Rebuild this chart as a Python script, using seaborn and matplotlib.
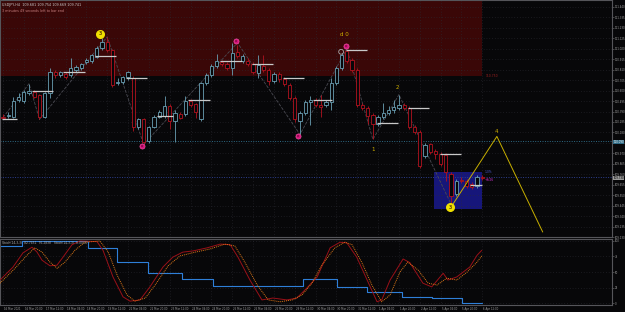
import matplotlib
matplotlib.use("Agg")
import matplotlib.pyplot as plt
import seaborn as sns
import numpy as np

# ---------------- data ----------------
opens = [110.34,110.35,110.34,110.51,110.50,110.58,110.59,110.56,110.34,110.58,
         110.79,110.76,110.77,110.76,110.81,110.83,110.89,110.90,110.94,111.03,
         111.09,111.01,110.68,110.69,110.74,110.73,110.23,110.32,110.09,110.23,
         110.34,110.35,110.45,110.29,110.37,110.37,110.50,110.47,110.31,110.68,
         110.76,110.85,110.89,110.87,110.83,110.99,110.90,110.90,110.87,110.78,
         110.85,110.81,110.70,110.77,110.72,110.66,110.53,110.29,110.38,110.49,
         110.51,110.46,110.46,110.49,110.68,110.83,111.00,110.91,110.81,110.46,
         110.43,110.36,110.26,110.34,110.38,110.41,110.43,110.46,110.43,110.23,
         110.18,109.94,110.06,109.99,109.96,109.95,109.76,109.56,109.70,109.69,
         109.66,109.64,109.73]
highs = [110.37,110.39,110.54,110.58,110.61,110.67,110.61,110.57,110.59,110.83,
         110.81,110.80,110.79,110.93,110.86,110.88,110.93,110.97,111.05,111.13,
         111.14,111.02,110.73,110.75,110.80,110.75,110.33,110.33,110.24,110.36,
         110.41,110.55,110.47,110.41,110.39,110.55,110.52,110.48,110.69,110.78,
         110.87,110.97,110.91,110.89,111.08,111.06,110.97,110.93,110.89,110.96,
         110.96,110.83,110.79,110.79,110.74,110.68,110.55,110.40,110.51,110.55,
         110.53,110.56,110.51,110.73,110.85,110.98,111.02,110.93,110.83,110.48,
         110.45,110.38,110.36,110.48,110.45,110.51,110.56,110.48,110.45,110.25,
         110.20,110.07,110.07,110.01,109.98,109.97,109.78,109.71,109.73,109.71,
         109.68,109.75,109.75]
lows = [110.31,110.33,110.33,110.49,110.48,110.56,110.53,110.31,110.33,110.53,
        110.73,110.74,110.72,110.74,110.79,110.81,110.87,110.88,110.93,111.01,
        110.99,110.64,110.66,110.67,110.71,110.19,110.21,110.06,110.07,110.22,
        110.33,110.33,110.21,110.08,110.31,110.35,110.44,110.33,110.29,110.66,
        110.74,110.83,110.85,110.81,110.76,110.93,110.88,110.85,110.77,110.73,
        110.79,110.66,110.68,110.69,110.65,110.51,110.28,110.16,110.36,110.25,
        110.44,110.34,110.44,110.41,110.66,110.81,110.88,110.79,110.44,110.41,
        110.26,110.11,110.24,110.32,110.36,110.38,110.41,110.41,110.21,110.16,
        109.82,109.92,109.96,109.91,109.84,109.69,109.46,109.54,109.67,109.62,
        109.61,109.62,109.70]
closes = [110.33,110.36,110.50,110.54,110.59,110.60,110.54,110.34,110.58,110.79,
          110.76,110.79,110.74,110.83,110.84,110.87,110.91,110.96,111.03,111.09,
          111.01,110.66,110.69,110.74,110.79,110.23,110.32,110.08,110.23,110.34,
          110.39,110.45,110.29,110.38,110.33,110.50,110.46,110.39,110.68,110.76,
          110.85,110.90,110.87,110.83,110.98,110.95,110.95,110.87,110.79,110.86,
          110.81,110.70,110.77,110.72,110.67,110.53,110.31,110.38,110.49,110.51,
          110.46,110.44,110.49,110.68,110.83,110.96,110.90,110.81,110.46,110.43,
          110.35,110.26,110.34,110.38,110.41,110.44,110.46,110.43,110.23,110.18,
          109.84,110.05,109.98,109.96,109.86,109.78,109.54,109.69,109.69,109.64,
          109.63,109.73,109.72]

# pivot level segments: start index, end index, price
pivot_start = [-0.2, 5.6, 11.5, 17.7, 23.6, 29.6, 35.5, 41.7, 47.8, 53.7, 59.5, 65.8, 71.8, 77.7, 83.9, 89.6]
pivot_end   = [2.7, 9.6, 15.7, 21.7, 27.6, 32.6, 39.7, 45.9, 51.8, 57.8, 63.1, 69.9, 75.8, 81.8, 87.9, 91.9]
pivot_price = [110.32,110.60,110.79,110.95,110.73,110.35,110.51,110.90,110.87,110.73,
               110.51,111.01,110.27,110.43,109.96,109.65]

# swing zigzag
zig_x = [0, 5, 7, 20, 27, 45, 57, 66, 71, 76, 86]
zig_p = [110.33,110.67,110.31,111.14,110.06,111.08,110.16,111.02,110.11,110.56,109.46]

# projected wave (yellow)
wave_x = [86.0, 94.8, 103.6]
wave_p = [109.43, 110.14, 109.18]

# markers
mag_x = [26.7, 44.7, 56.6, 65.8]
mag_p = [110.04, 111.10, 110.14, 111.05]

# stochastic main (%K) and signal (%D)
k_x = [-0.58,1.92,3.84,5.57,6.53,7.49,9.02,10.36,11.52,13.24,14.78,18.04,19.19,21.11,23.03,
       24.38,26.3,28.2,30.7,32.6,34.5,36.5,39.2,41.7,43.6,45.1,47.4,49.7,51.8,54.5,56.4,
       58.3,60.3,62.8,64.7,66.0,67.9,69.9,71.8,72.7,74.3,76.8,78.1,80.6,82.3,84.5,85.4,
       87.1,89.6,91.0,91.9]
k_v = [37,58,81,90,82,69,60,61,74,94,100,99,85,42,10,3,5,26,58,74,82,84,89,95,94,74,37,
       5,8,5,8,24,42,89,98,97,74,37,2,5,37,71,65,32,26,48,37,42,58,77,85]
d_x = [-0.58,2.3,4.6,6.1,7.5,9.0,10.4,11.9,13.8,15.7,18.6,20.2,21.9,23.8,25.3,27.3,29.2,
       31.7,34.0,36.9,39.7,42.6,44.5,46.4,48.8,50.9,53.2,55.5,57.4,59.3,61.2,63.7,65.6,
       67.0,68.9,70.8,72.7,74.3,76.2,77.7,79.7,81.6,83.3,85.2,87.1,89.1,91.0,91.9]
d_v = [32,56,77,89,82,66,56,66,85,98,100,82,45,13,3,8,29,60,76,82,87,95,92,66,29,5,2,
       5,13,32,61,89,98,94,65,29,2,13,50,66,53,32,29,40,37,50,66,76]
# blue step line
step_x = [-0.58, 3.6, 16.3, 21.9, 27.8, 34.4, 40.3, 57.6, 64.1, 69.9, 76.6, 82.3, 88.1, 91.9]
step_v = [92, 100, 89, 66, 48, 39, 27, 39, 26, 18, 10, 8, 0, 0]

time_labels = ["16 Mar 2021", "16 Mar 20:00", "17 Mar 12:00", "18 Mar 04:00", "18 Mar 20:00",
               "19 Mar 12:00", "22 Mar 04:00", "22 Mar 20:00", "23 Mar 12:00", "24 Mar 04:00",
               "24 Mar 20:00", "25 Mar 12:00", "26 Mar 04:00", "26 Mar 20:00", "29 Mar 12:00",
               "30 Mar 04:00", "30 Mar 20:00", "31 Mar 12:00", "1 Apr 04:00", "1 Apr 20:00",
               "2 Apr 12:00", "5 Apr 04:00", "5 Apr 20:00", "6 Apr 12:00"]

# ---------------- style ----------------
sns.set_theme(style="dark")
BG = "#070709"
plt.rcParams["font.family"] = ["DejaVu Sans"]

fig = plt.figure(figsize=(6.25, 3.12), dpi=100, facecolor=BG)
W, H = 625.0, 312.0
ax = fig.add_axes([0, (H - 237) / H, 612 / W, 237 / H])
ax2 = fig.add_axes([0, (H - 305) / H, 612 / W, (305 - 239) / H])
XL = (-0.58, 116.9)
for a in (ax, ax2):
    a.set_facecolor(BG)
    a.set_xlim(*XL)
    for s in a.spines.values():
        s.set_color("#55555a")
        s.set_linewidth(0.8)

YL = (109.14, 111.51)
ax.set_ylim(*YL)
ax2.set_ylim(-3.2, 103.2)

TFS = 1.9  # tiny axis font

# grid
ticks_p = [round(111.44 - 0.105 * k, 3) for k in range(23)]
ax.set_yticks(ticks_p)
ax.yaxis.tick_right()
ax.set_yticklabels([f"{t:.3f}" for t in ticks_p], fontsize=TFS, color="#a0a0a0")
ax.tick_params(axis="y", length=1.2, width=0.4, color="#777777", pad=0.6)
xt = [4 * k for k in range(24)]
ax.set_xticks(xt)
ax.set_xticklabels([])
ax.tick_params(axis="x", length=0)
ax.grid(True, color="#2c2c34", linestyle=(0, (1, 3)), linewidth=0.5)

# zones
ax.fill_between([-0.58, 92.0], 110.75, 111.51, color="#3a0707", zorder=0, linewidth=0)
ax.fill_between([82.7, 92.0], 109.41, 109.78, color="#16167a", zorder=0.5, linewidth=0)
ax.text(92.6, 110.75, "110.750", fontsize=2.2, color="#a02020", va="center")

# horizontal dotted price lines
ax.axhline(110.09, color="#2f6b86", linestyle=(0, (1, 1.5)), linewidth=0.7, zorder=1)
ax.axhline(109.73, color="#2d3f8f", linestyle=(0, (1, 1.5)), linewidth=0.7, zorder=1)

# zigzag
sns.lineplot(x=zig_x, y=zig_p, ax=ax, color="#4a4a52", linewidth=0.6, sort=False,
             estimator=None, linestyle="--", zorder=1.5)

# candles
idx = np.arange(len(opens))
o = np.array(opens); c = np.array(closes); h = np.array(highs); l = np.array(lows)
up = c >= o
UP, DN = "#6aa0b4", "#b3121f"
cols = np.where(up, UP, DN)
ax.vlines(idx, l, h, colors=cols, linewidth=0.6, zorder=3)
bottoms = np.minimum(o, c)
heights = np.maximum(np.abs(c - o), 0.006)
ax.bar(idx, heights, bottom=bottoms, width=0.62, facecolor=BG, edgecolor=cols,
       linewidth=0.6, zorder=4)

# pivot segments
ax.hlines(pivot_price, pivot_start, pivot_end, colors="#c9c9c9", linewidth=0.9, zorder=5)

# projected wave
sns.lineplot(x=wave_x, y=wave_p, ax=ax, color="#c8b000", linewidth=0.7, sort=False,
             estimator=None, zorder=5)

# markers / labels
ax.scatter(mag_x, mag_p, s=14, color="#d4147a", edgecolor="#ff5ab0", linewidth=0.4, zorder=6)
for mx, mp in zip(mag_x, mag_p):
    ax.text(mx, mp, "x", fontsize=2.5, color="#300010", ha="center", va="center", zorder=7)
ax.scatter([64.9], [110.99], s=12, facecolor="none", edgecolor="#aaaaaa", linewidth=0.6, zorder=6)
ax.scatter([18.6, 85.8], [111.17, 109.43], s=30, color="#f0e000", zorder=6)
for xx, pp in [(18.6, 111.17), (85.8, 109.43)]:
    ax.text(xx, pp, "3", fontsize=3.5, color="#6a4a00", ha="center", va="center",
            fontweight="bold", zorder=7)
ax.text(65.6, 111.16, "d 0", fontsize=4, color="#d0b000", ha="center", va="center")
ax.text(71.0, 110.01, "1", fontsize=4, color="#d0b000", ha="center", va="center")
ax.text(75.8, 110.63, "2", fontsize=4, color="#d0b000", ha="center", va="center")
ax.text(94.8, 110.19, "4", fontsize=4, color="#d0b000", ha="center", va="center")
ax.text(92.5, 109.785, "1.0%", fontsize=2.2, color="#4a5ad0", va="center")
ax.text(92.5, 109.70, "+8/26", fontsize=2.2, color="#d030d0", va="center")

# right-axis highlights
for val, fc, tc in [(110.09, "#2f6b86", "#ffffff"), (109.73, "#9a9a9a", "#000000")]:
    ax.text(1.002, (val - YL[0]) / (YL[1] - YL[0]), f"{val:.3f}", transform=ax.transAxes,
            fontsize=TFS, color=tc, va="center", ha="left",
            bbox=dict(boxstyle="square,pad=0.1", fc=fc, ec="none"))

# header text
ax.text(0.004, 0.988, "USDJPY,H4  109.681 109.754 109.669 109.741", transform=ax.transAxes,
        fontsize=2.4, color="#c8c8c8", va="top")
ax.text(0.004, 0.964, "3 minutes 49 seconds left to bar end", transform=ax.transAxes,
        fontsize=2.4, color="#c88080", va="top")

# ---------------- stochastic panel ----------------
ax2.yaxis.tick_right()
ax2.set_yticks([0, 25, 50, 75, 100])
ax2.set_yticklabels(["0", "25", "50", "75", "100"], fontsize=TFS, color="#a0a0a0")
ax2.tick_params(axis="y", length=1.2, width=0.4, color="#777777", pad=0.6)
ax2.set_xticks(xt)
ax2.set_xticklabels([])
ax2.tick_params(axis="x", length=1.2, width=0.4, color="#777777")
ax2.grid(True, color="#2c2c34", linestyle=(0, (1, 3)), linewidth=0.5)

ax2.step(step_x, step_v, where="post", color="#2e7fd8", linewidth=0.8, zorder=2)
sns.lineplot(x=k_x, y=k_v, ax=ax2, color="#9a1018", linewidth=0.7, sort=False,
             estimator=None, zorder=3)
sns.lineplot(x=d_x, y=d_v, ax=ax2, color="#e07818", linewidth=0.7, sort=False,
             estimator=None, linestyle=(0, (1, 1)), zorder=4)
ax2.text(0.004, 0.97, "Stoch(14,3,3)  82.7451  76.2838   Stoch(14,3,3)  0.0000",
         transform=ax2.transAxes, fontsize=2.2, color="#b0b0b0", va="top")
ax2.set_xlabel(""); ax2.set_ylabel(""); ax.set_xlabel(""); ax.set_ylabel("")

# time labels
for k, lab in enumerate(time_labels):
    ax2.text(4 * k + 0.2, -0.035, lab, transform=ax2.get_xaxis_transform(), fontsize=1.9,
             color="#a0a0a0", ha="left", va="top")

fig.savefig("out.png", dpi=100, facecolor=BG)
